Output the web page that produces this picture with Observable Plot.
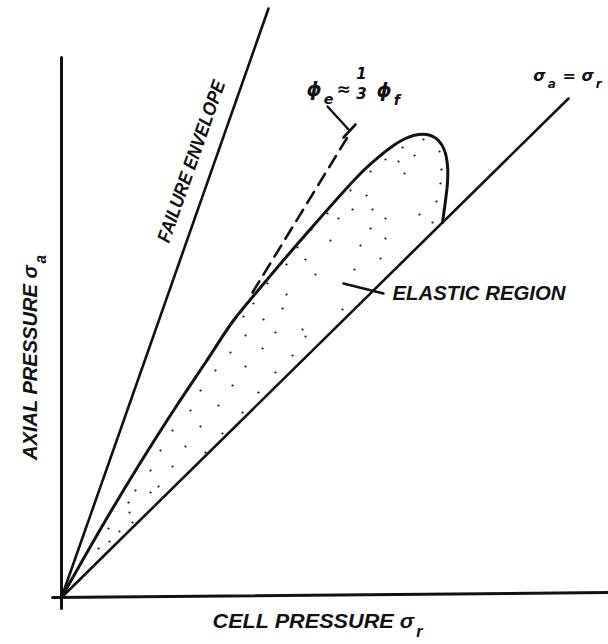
<!DOCTYPE html>
<html><head><meta charset="utf-8">
<script src="https://cdn.jsdelivr.net/npm/d3@7"></script>
<script src="https://cdn.jsdelivr.net/npm/@observablehq/plot@0.6"></script>
<style>body{margin:0;background:#fff} svg{display:block}</style>
</head><body><div id="chart"></div>
<script>
// values in arbitrary pressure units (cell pressure x, axial pressure y)
const xAxisLine = [[-1.8, 0], [109.4, 1.0]];
const yAxisLine = [[0, -2.2], [0, 108]];
const failureEnvelope = [[0, 0], [41.4, 117.8]];
const equalPressure = [[0, 0], [101.4, 99.8]];
const elasticBoundary = [
  [0, 0], [8.8, 15.4], [15.8, 27], [22.8, 38], [28.8, 47], [34.4, 55.4], [39.8, 62],
  [47.8, 71.4], [59.8, 84.8], [63.8, 88.4], [66.4, 90.4], [68.8, 91.8], [71.4, 92.6],
  [73.8, 92.4], [75.4, 91.4], [76.6, 89.4], [77.2, 86.4], [77.2, 83], [76.8, 79.4], [76.2, 75]
];
const initialSlope = [[38.2, 61], [57.4, 92.4]];
const slopePointer = [[53.2, 98.2], [57.4, 93.6]];
const slopeTick = [[56.4, 92], [58.8, 94.6]];
const regionPointer = [[56.4, 62.8], [64.4, 60.8]];
const stipple = [
  [72.4,91.6],[68.2,90],[70.6,88.4],[75.6,89.2],[64.8,87.6],[67.4,87.2],[61.8,85.2],[68.6,84.8],
  [76,85.6],[75.8,82.8],[61,80.4],[75,79.2],[62.2,77.6],[71.6,76.6],[64.8,75.8],[74.2,75],[61.8,73.8],
  [57.8,81.4],[58.2,77.6],[53.2,76.8],[55.4,75.8],[50,73.6],[47.2,70],[48.8,67.6],[45,66.6],
  [50.8,64.6],[58.6,65.6],[41.2,62.8],[45,60.6],[38.4,58.8],[44.2,57.8],[36.4,56.2],[40.4,55.6],
  [56.2,57.6],[63.8,67.8],[48.2,53.6],
  [53.8,71.4],[64.8,71.8],[59.8,70.4],
  [36.8,52.4],[42.8,53],[48.8,52.2],
  [33.8,49],[40.2,49.8],[46.2,48.4],
  [30.8,45.4],[36.8,46.2],[42.8,45],
  [27.8,41.4],[34.2,42.4],[39.4,41],
  [25.8,37.4],[31.4,38.4],[36.2,37],
  [22.2,33.4],[27.8,34.2],[32.2,32.8],
  [19.8,29.4],[24.8,30.2],[28.8,29],
  [17.8,25.4],[22.2,26.2],[25.4,25],
  [14.8,21.4],[19.4,22.2],[17.8,21],
  [14.2,15],[9.4,13.8],[11.6,13.2],[9.6,11.2],[7.4,9.8],[13.4,19],[13.6,17]
];
const labels = {
  failure: "FAILURE ENVELOPE",
  elastic: "ELASTIC REGION",
  equal: "σ_a = σ_r",
  xTitle: "CELL PRESSURE σ_r",
  yTitle: "AXIAL PRESSURE σ_a"
};
const slopeLabel = {phiE: "ϕ_e", approx: "≈", num: "1", den: "3", phiF: "ϕ_f"};

const font = {fontFamily: "Liberation Sans, DejaVu Sans, sans-serif", fontStyle: "italic", fontWeight: "bold", fill: "#111"};
const greek = {fontFamily: "DejaVu Sans, sans-serif", fontStyle: "italic", fontWeight: "bold", fill: "#111"};
const ink = "#111";

const plot = Plot.plot({
  width: 608, height: 644,
  marginLeft: 61, marginRight: 0, marginTop: 0, marginBottom: 47,
  x: {domain: [0, 109.4], axis: null},
  y: {domain: [0, 119.4], axis: null},
  style: {background: "#fff", overflow: "visible"},
  marks: [
    Plot.dot(stipple, {r: 1.1, fill: ink, stroke: null}),
    Plot.line(xAxisLine, {stroke: ink, strokeWidth: 3}),
    Plot.line(yAxisLine, {stroke: ink, strokeWidth: 3}),
    Plot.line(failureEnvelope, {stroke: ink, strokeWidth: 2.6}),
    Plot.line(equalPressure, {stroke: ink, strokeWidth: 2.6}),
    Plot.line(elasticBoundary, {stroke: ink, strokeWidth: 3, curve: "catmull-rom"}),
    Plot.line(initialSlope, {stroke: ink, strokeWidth: 2.6, strokeDasharray: "13,8"}),
    Plot.line(slopePointer, {stroke: ink, strokeWidth: 2.4}),
    Plot.line(slopeTick, {stroke: ink, strokeWidth: 2.6}),
    Plot.line(regionPointer, {stroke: ink, strokeWidth: 2.4}),
    Plot.text([labels.failure], {x: 26, y: 87.2, text: d => d, rotate: -70.6, fontSize: 19, ...font}),
    Plot.text([labels.elastic], {x: 66.2, y: 60.8, text: d => d, textAnchor: "start", fontSize: 21, ...font}),
    Plot.text([labels.equal], {x: 101.2, y: 104.4, text: d => d, fontSize: 16, ...greek}),
    Plot.text([labels.xTitle], {x: 51.2, y: -4.8, text: d => d, fontSize: 21, ...font}),
    Plot.text([labels.yTitle], {x: -6.2, y: 48, text: d => d, rotate: -90, fontSize: 21, ...font}),
    Plot.text([slopeLabel.phiE], {x: 49, y: 101.6, text: d => d, textAnchor: "start", fontSize: 19, ...greek}),
    Plot.text([slopeLabel.approx], {x: 56.4, y: 101.6, text: d => d, fontSize: 17, ...greek}),
    Plot.text([slopeLabel.num], {x: 60, y: 104.6, text: d => d, fontSize: 15, ...greek}),
    Plot.text([slopeLabel.den], {x: 60, y: 100.6, text: d => d, fontSize: 15, ...greek}),
    Plot.text([slopeLabel.phiF], {x: 63, y: 101.4, text: d => d, textAnchor: "start", fontSize: 19, ...greek})
  ]
});

const lengths = {
  [labels.failure]: 170, [labels.elastic]: 173, [labels.xTitle]: 210, [labels.yTitle]: 205
};
plot.querySelectorAll("text").forEach(t => {
  const s = t.textContent;
  if (lengths[s]) { t.setAttribute("textLength", lengths[s]); t.setAttribute("lengthAdjust", "spacingAndGlyphs"); }
  if (!s.includes("_")) return;
  t.textContent = "";
  for (const p of s.split(/(_.)/)) {
    if (!p) continue;
    const ts = document.createElementNS("http://www.w3.org/2000/svg", "tspan");
    if (p[0] === "_") { ts.textContent = p[1]; ts.setAttribute("baseline-shift", "sub"); ts.setAttribute("font-size", "75%"); ts.setAttribute("dx", "2"); }
    else { ts.textContent = p; if (t.childNodes.length) ts.setAttribute("dx", "1"); }
    t.appendChild(ts);
  }
});
document.getElementById("chart").appendChild(plot);
</script>
</body></html>
